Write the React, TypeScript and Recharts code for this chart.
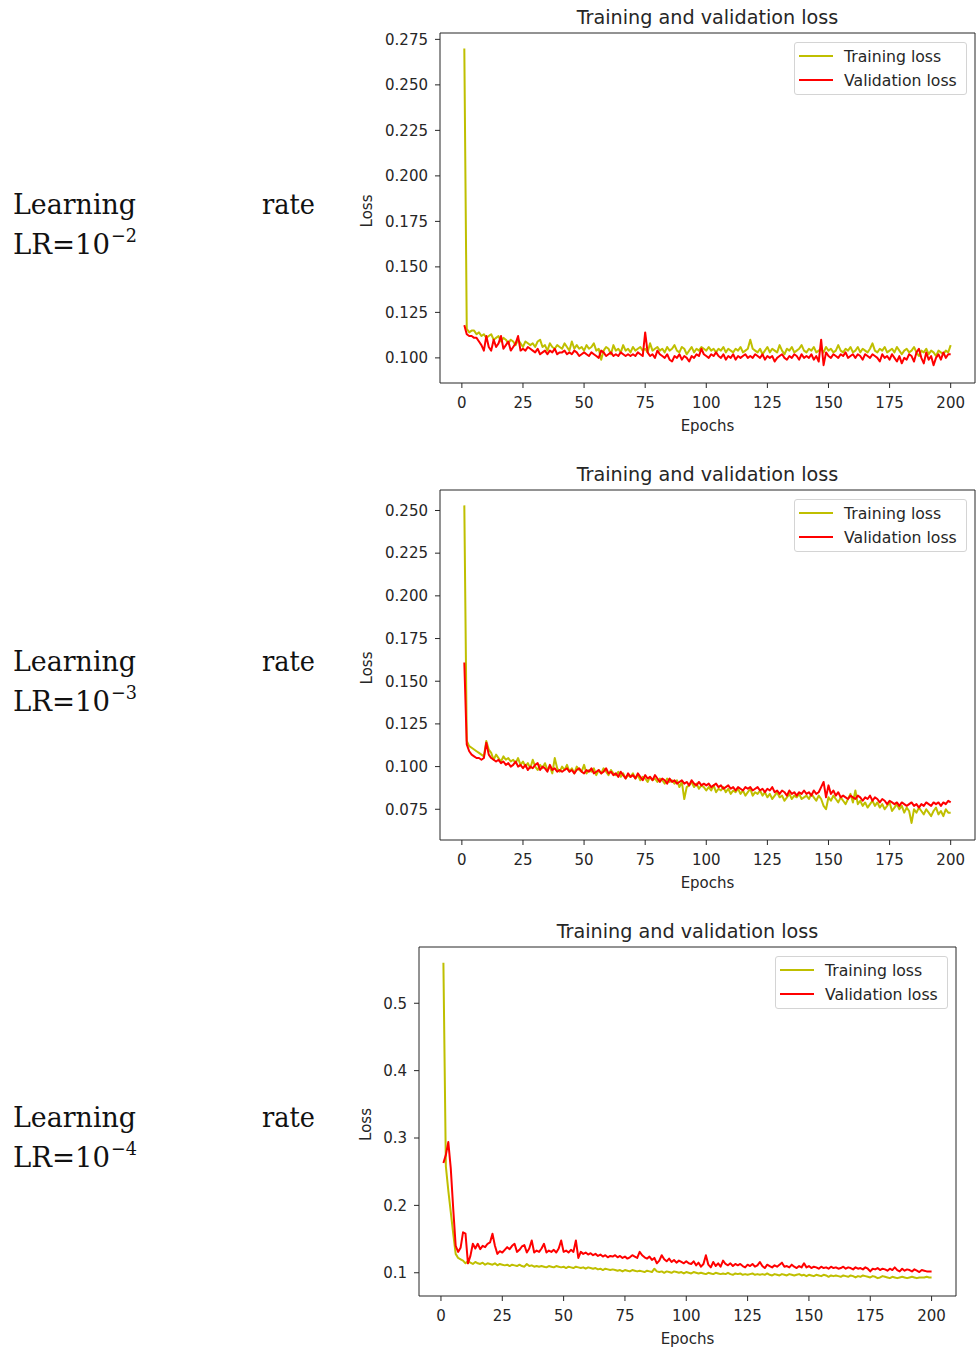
import React from 'react';
import { LineChart, Line, XAxis, YAxis, Legend, ReferenceArea, Label } from 'recharts';

const SANS = '"DejaVu Sans", sans-serif';
const SERIF = '"DejaVu Serif", serif';
const INK = '#262626';
const TRAIN_COLOR = '#bfbf00';
const VAL_COLOR = '#ff0000';

const epochs = Array.from({ length: 200 }, (_, i) => i + 1);
const epochTicks = [0, 25, 50, 75, 100, 125, 150, 175, 200];
const epochDomain = [-8.95, 209.95];

// LR = 1e-2
const train1 = [
  0.270, 0.116, 0.114, 0.115, 0.115, 0.113, 0.114, 0.112, 0.113, 0.111, 0.112, 0.113, 0.110, 0.111, 0.112, 0.109, 0.111, 0.110, 0.108, 0.110,
  0.109, 0.107, 0.110, 0.108, 0.106, 0.109, 0.108, 0.107, 0.108, 0.106, 0.109, 0.110, 0.106, 0.107, 0.104, 0.108, 0.106, 0.105, 0.107, 0.106,
  0.105, 0.108, 0.106, 0.104, 0.109, 0.105, 0.107, 0.105, 0.106, 0.104, 0.107, 0.105, 0.106, 0.108, 0.104, 0.105, 0.099, 0.104, 0.106, 0.105,
  0.102, 0.107, 0.104, 0.105, 0.103, 0.107, 0.104, 0.105, 0.103, 0.106, 0.104, 0.105, 0.106, 0.104, 0.105, 0.103, 0.108, 0.104, 0.105, 0.106,
  0.104, 0.105, 0.103, 0.106, 0.104, 0.105, 0.107, 0.104, 0.103, 0.106, 0.105, 0.102, 0.104, 0.106, 0.103, 0.105, 0.104, 0.106, 0.105, 0.104,
  0.106, 0.104, 0.105, 0.103, 0.105, 0.104, 0.106, 0.103, 0.105, 0.104, 0.103, 0.105, 0.104, 0.106, 0.103, 0.104, 0.105, 0.110, 0.105, 0.104,
  0.103, 0.105, 0.102, 0.104, 0.106, 0.103, 0.105, 0.104, 0.103, 0.107, 0.104, 0.102, 0.105, 0.104, 0.106, 0.103, 0.104, 0.105, 0.107, 0.104,
  0.103, 0.105, 0.104, 0.106, 0.103, 0.104, 0.105, 0.103, 0.106, 0.104, 0.105, 0.103, 0.104, 0.107, 0.104, 0.103, 0.105, 0.104, 0.106, 0.103,
  0.104, 0.106, 0.103, 0.105, 0.104, 0.103, 0.105, 0.108, 0.104, 0.103, 0.105, 0.104, 0.106, 0.103, 0.104, 0.105, 0.103, 0.106, 0.104, 0.102,
  0.104, 0.105, 0.103, 0.104, 0.106, 0.103, 0.101, 0.104, 0.103, 0.105, 0.102, 0.104, 0.103, 0.101, 0.104, 0.103, 0.102, 0.104, 0.103, 0.107,
];
const val1 = [
  0.118, 0.113, 0.112, 0.112, 0.111, 0.111, 0.109, 0.107, 0.104, 0.112, 0.106, 0.104, 0.110, 0.106, 0.108, 0.112, 0.105, 0.107, 0.109, 0.104,
  0.106, 0.108, 0.112, 0.104, 0.105, 0.104, 0.106, 0.105, 0.104, 0.103, 0.105, 0.102, 0.103, 0.104, 0.102, 0.104, 0.103, 0.105, 0.102, 0.103,
  0.103, 0.104, 0.102, 0.103, 0.102, 0.104, 0.103, 0.101, 0.102, 0.103, 0.102, 0.101, 0.103, 0.102, 0.101, 0.100, 0.104, 0.103, 0.101, 0.102,
  0.103, 0.101, 0.102, 0.101, 0.103, 0.102, 0.101, 0.102, 0.101, 0.102, 0.101, 0.103, 0.102, 0.101, 0.114, 0.103, 0.101, 0.102, 0.100, 0.104,
  0.102, 0.101, 0.100, 0.102, 0.099, 0.098, 0.101, 0.100, 0.102, 0.099, 0.101, 0.100, 0.098, 0.101, 0.100, 0.102, 0.101, 0.105, 0.102, 0.101,
  0.100, 0.102, 0.101, 0.103, 0.101, 0.100, 0.102, 0.099, 0.101, 0.100, 0.102, 0.099, 0.101, 0.100, 0.101, 0.102, 0.100, 0.101, 0.100, 0.102,
  0.101, 0.100, 0.102, 0.099, 0.101, 0.100, 0.101, 0.098, 0.100, 0.101, 0.102, 0.100, 0.099, 0.101, 0.100, 0.102, 0.101, 0.099, 0.102, 0.100,
  0.101, 0.100, 0.102, 0.099, 0.101, 0.098, 0.110, 0.096, 0.103, 0.101, 0.100, 0.102, 0.101, 0.100, 0.102, 0.101, 0.103, 0.100, 0.101, 0.102,
  0.100, 0.102, 0.101, 0.099, 0.102, 0.101, 0.100, 0.102, 0.101, 0.100, 0.098, 0.102, 0.100, 0.101, 0.099, 0.102, 0.100, 0.098, 0.101, 0.097,
  0.100, 0.099, 0.102, 0.101, 0.098, 0.103, 0.105, 0.100, 0.097, 0.103, 0.099, 0.101, 0.096, 0.100, 0.102, 0.099, 0.103, 0.100, 0.102, 0.102,
];
const lossTicks1 = [0.1, 0.125, 0.15, 0.175, 0.2, 0.225, 0.25, 0.275];

// LR = 1e-3
const train2 = [
  0.253, 0.115, 0.112, 0.111, 0.110, 0.109, 0.108, 0.107, 0.106, 0.115, 0.110, 0.108, 0.104, 0.107, 0.105, 0.103, 0.106, 0.104, 0.105, 0.103,
  0.104, 0.102, 0.105, 0.101, 0.103, 0.100, 0.102, 0.099, 0.104, 0.100, 0.098, 0.101, 0.099, 0.102, 0.098, 0.100, 0.096, 0.105, 0.099, 0.097,
  0.100, 0.098, 0.101, 0.097, 0.099, 0.096, 0.100, 0.098, 0.097, 0.101, 0.096, 0.098, 0.097, 0.099, 0.095, 0.098, 0.096, 0.099, 0.097, 0.095,
  0.098, 0.096, 0.095, 0.097, 0.094, 0.096, 0.093, 0.095, 0.094, 0.096, 0.093, 0.095, 0.092, 0.094, 0.093, 0.091, 0.094, 0.092, 0.093, 0.091,
  0.093, 0.092, 0.090, 0.093, 0.091, 0.092, 0.090, 0.092, 0.088, 0.091, 0.081, 0.088, 0.089, 0.091, 0.088, 0.090, 0.087, 0.089, 0.088, 0.086,
  0.088, 0.086, 0.089, 0.085, 0.087, 0.086, 0.088, 0.085, 0.087, 0.084, 0.086, 0.085, 0.087, 0.084, 0.086, 0.083, 0.085, 0.087, 0.083, 0.085,
  0.084, 0.086, 0.083, 0.085, 0.082, 0.084, 0.081, 0.083, 0.085, 0.082, 0.083, 0.080, 0.082, 0.084, 0.081, 0.083, 0.082, 0.084, 0.081, 0.082,
  0.083, 0.081, 0.084, 0.082, 0.080, 0.083, 0.081, 0.077, 0.075, 0.082, 0.080, 0.083, 0.081, 0.079, 0.082, 0.080, 0.078, 0.081, 0.084, 0.079,
  0.086, 0.078, 0.080, 0.077, 0.079, 0.076, 0.078, 0.080, 0.077, 0.079, 0.076, 0.078, 0.075, 0.077, 0.079, 0.074, 0.076, 0.078, 0.075, 0.077,
  0.073, 0.076, 0.074, 0.067, 0.075, 0.073, 0.076, 0.074, 0.072, 0.075, 0.073, 0.071, 0.074, 0.076, 0.072, 0.074, 0.071, 0.075, 0.073, 0.073,
];
const val2 = [
  0.161, 0.113, 0.109, 0.107, 0.106, 0.105, 0.105, 0.104, 0.105, 0.114, 0.107, 0.105, 0.104, 0.103, 0.104, 0.102, 0.103, 0.101, 0.102, 0.100,
  0.101, 0.103, 0.100, 0.101, 0.099, 0.101, 0.098, 0.100, 0.099, 0.101, 0.102, 0.098, 0.100, 0.099, 0.097, 0.101, 0.098, 0.099, 0.097, 0.098,
  0.097, 0.098, 0.099, 0.097, 0.098, 0.096, 0.098, 0.099, 0.097, 0.096, 0.098, 0.097, 0.099, 0.096, 0.097, 0.098, 0.096, 0.097, 0.099, 0.096,
  0.097, 0.095, 0.096, 0.094, 0.097, 0.095, 0.093, 0.096, 0.094, 0.095, 0.093, 0.096, 0.094, 0.092, 0.095, 0.093, 0.094, 0.092, 0.095, 0.093,
  0.091, 0.093, 0.092, 0.090, 0.093, 0.091, 0.092, 0.090, 0.091, 0.092, 0.090, 0.091, 0.089, 0.092, 0.090, 0.089, 0.091, 0.089, 0.090, 0.089,
  0.090, 0.088, 0.089, 0.090, 0.088, 0.089, 0.087, 0.088, 0.089, 0.087, 0.088, 0.086, 0.088, 0.087, 0.086, 0.088, 0.087, 0.088, 0.086, 0.087,
  0.088, 0.086, 0.087, 0.085, 0.087, 0.086, 0.088, 0.085, 0.086, 0.084, 0.086, 0.085, 0.083, 0.086, 0.084, 0.085, 0.083, 0.085, 0.084, 0.086,
  0.084, 0.085, 0.083, 0.086, 0.084, 0.085, 0.088, 0.091, 0.082, 0.089, 0.084, 0.086, 0.083, 0.085, 0.082, 0.083, 0.082, 0.081, 0.083, 0.082,
  0.081, 0.083, 0.082, 0.080, 0.082, 0.081, 0.083, 0.080, 0.082, 0.081, 0.079, 0.081, 0.080, 0.078, 0.080, 0.079, 0.078, 0.079, 0.077, 0.079,
  0.078, 0.077, 0.078, 0.079, 0.077, 0.078, 0.076, 0.078, 0.077, 0.079, 0.078, 0.077, 0.079, 0.078, 0.079, 0.077, 0.079, 0.078, 0.080, 0.079,
];
const lossTicks2 = [0.075, 0.1, 0.125, 0.15, 0.175, 0.2, 0.225, 0.25];

// LR = 1e-4
const train3 = [
  0.560, 0.258, 0.222, 0.190, 0.158, 0.128, 0.122, 0.120, 0.118, 0.114, 0.117, 0.115, 0.113, 0.116, 0.114, 0.113, 0.115, 0.112, 0.114, 0.113,
  0.112, 0.114, 0.111, 0.113, 0.112, 0.111, 0.112, 0.110, 0.112, 0.111, 0.110, 0.112, 0.110, 0.109, 0.113, 0.110, 0.111, 0.109, 0.110, 0.109,
  0.110, 0.109, 0.108, 0.110, 0.109, 0.108, 0.110, 0.109, 0.108, 0.109, 0.107, 0.109, 0.108, 0.107, 0.109, 0.108, 0.107, 0.108, 0.106, 0.108,
  0.107, 0.106, 0.107, 0.105, 0.106, 0.104, 0.106, 0.105, 0.104, 0.105, 0.104, 0.103, 0.104, 0.102, 0.104, 0.103, 0.102, 0.104, 0.103, 0.102,
  0.103, 0.102, 0.101, 0.103, 0.102, 0.101, 0.106, 0.102, 0.101, 0.102, 0.100, 0.102, 0.101, 0.100, 0.102, 0.101, 0.100, 0.101, 0.099, 0.101,
  0.100, 0.099, 0.101, 0.100, 0.099, 0.100, 0.099, 0.098, 0.100, 0.099, 0.098, 0.100, 0.099, 0.098, 0.099, 0.098, 0.100, 0.098, 0.097, 0.099,
  0.098, 0.099, 0.097, 0.098, 0.097, 0.098, 0.099, 0.097, 0.098, 0.097, 0.098, 0.097, 0.099, 0.097, 0.096, 0.098, 0.097, 0.096, 0.098, 0.097,
  0.096, 0.098, 0.097, 0.096, 0.097, 0.098, 0.096, 0.097, 0.095, 0.097, 0.096, 0.095, 0.097, 0.096, 0.095, 0.097, 0.096, 0.094, 0.096, 0.095,
  0.096, 0.095, 0.094, 0.096, 0.095, 0.094, 0.096, 0.095, 0.093, 0.095, 0.094, 0.096, 0.095, 0.094, 0.093, 0.095, 0.094, 0.092, 0.093, 0.095,
  0.094, 0.093, 0.092, 0.094, 0.093, 0.092, 0.093, 0.094, 0.093, 0.092, 0.093, 0.094, 0.093, 0.092, 0.093, 0.093, 0.093, 0.094, 0.093, 0.093,
];
const val3 = [
  0.263, 0.275, 0.294, 0.255, 0.195, 0.140, 0.131, 0.137, 0.160, 0.158, 0.114, 0.125, 0.143, 0.136, 0.143, 0.135, 0.140, 0.138, 0.143, 0.145,
  0.158, 0.140, 0.128, 0.132, 0.130, 0.134, 0.138, 0.135, 0.140, 0.143, 0.131, 0.134, 0.139, 0.141, 0.130, 0.136, 0.148, 0.130, 0.133, 0.131,
  0.136, 0.143, 0.130, 0.133, 0.131, 0.134, 0.130, 0.136, 0.148, 0.131, 0.133, 0.130, 0.134, 0.131, 0.148, 0.122, 0.131, 0.128, 0.130, 0.127,
  0.129, 0.126, 0.128, 0.125, 0.127, 0.124, 0.126, 0.123, 0.125, 0.124, 0.126, 0.123, 0.125, 0.122, 0.124, 0.121, 0.123, 0.126, 0.124, 0.122,
  0.131, 0.126, 0.123, 0.121, 0.124, 0.119, 0.122, 0.114, 0.118, 0.126, 0.120, 0.117, 0.121, 0.116, 0.119, 0.115, 0.118, 0.116, 0.114, 0.117,
  0.114, 0.113, 0.117, 0.111, 0.115, 0.109, 0.113, 0.126, 0.112, 0.108, 0.116, 0.110, 0.114, 0.109, 0.118, 0.113, 0.111, 0.114, 0.110, 0.113,
  0.111, 0.113, 0.110, 0.108, 0.112, 0.110, 0.113, 0.109, 0.111, 0.116, 0.110, 0.107, 0.112, 0.110, 0.108, 0.111, 0.109, 0.112, 0.115, 0.109,
  0.110, 0.108, 0.112, 0.109, 0.107, 0.110, 0.108, 0.114, 0.108, 0.110, 0.107, 0.109, 0.108, 0.106, 0.109, 0.107, 0.108, 0.106, 0.109, 0.107,
  0.108, 0.106, 0.107, 0.109, 0.106, 0.108, 0.107, 0.105, 0.108, 0.106, 0.107, 0.105, 0.108, 0.106, 0.102, 0.106, 0.105, 0.107, 0.104, 0.106,
  0.105, 0.103, 0.106, 0.104, 0.108, 0.104, 0.102, 0.106, 0.103, 0.105, 0.104, 0.102, 0.105, 0.103, 0.101, 0.104, 0.103, 0.102, 0.102, 0.102,
];
const lossTicks3 = [0.1, 0.2, 0.3, 0.4, 0.5];

const exponents = ['−2', '−3', '−4'];

const toRows = (train: number[], val: number[]) =>
  epochs.map((epoch, i) => ({ epoch, train: train[i], val: val[i] }));

const LossLegend = ({ payload }: any) => (
  <div
    style={{
      position: 'relative',
      width: 171,
      height: 51,
      border: '1px solid #d4d4d4',
      borderRadius: 3,
      background: 'rgba(255,255,255,0.8)',
      fontFamily: SANS,
      fontSize: 15.7,
      color: INK,
    }}
  >
    {(payload || []).map((item: any, i: number) => (
      <div
        key={item.value}
        style={{ position: 'absolute', left: 4, top: 2 + i * 24, height: 22, display: 'flex', alignItems: 'center', whiteSpace: 'nowrap' }}
      >
        <span style={{ display: 'inline-block', width: 34, height: 2, background: item.color, marginRight: 11 }} />
        <span>{item.value}</span>
      </div>
    ))}
  </div>
);

type PanelProps = {
  train: number[];
  val: number[];
  yDomain: number[];
  yTicks: number[];
  digits: number;
  left: number;
  top: number;
  width: number;
  plotTop: number;
  lossX: number;
};

const LossPanel = ({ train, val, yDomain, yTicks, digits, left, top, width, plotTop, lossX }: PanelProps) => {
  const height = 440;
  const plotWidth = width - 101;
  const tickStyle = { fill: INK, fontSize: 15, fontFamily: SANS };

  return (
    <div style={{ position: 'absolute', left, top, width, height }}>
      <div
        style={{
          position: 'absolute', left: 100, top: plotTop - 26, width: plotWidth, textAlign: 'center',
          fontFamily: SANS, fontSize: 19.2, lineHeight: '22px', color: INK, whiteSpace: 'nowrap',
        }}
      >
        Training and validation loss
      </div>
      <LineChart width={width} height={height} data={toRows(train, val)} margin={{ top: plotTop, right: 1, bottom: 0, left: 0 }}>
        <XAxis
          type="number"
          dataKey="epoch"
          domain={epochDomain}
          ticks={epochTicks}
          allowDataOverflow
          height={57}
          axisLine={false}
          tickSize={5}
          tickMargin={9}
          tickLine={{ stroke: INK }}
          tick={tickStyle}
        >
          <Label value="Epochs" position="insideBottom" offset={9} fill={INK} fontSize={15} fontFamily={SANS} />
        </XAxis>
        <YAxis
          type="number"
          domain={yDomain}
          ticks={yTicks}
          allowDataOverflow
          width={100}
          axisLine={false}
          tickSize={5}
          tickMargin={7}
          tickLine={{ stroke: INK }}
          tick={tickStyle}
          tickFormatter={(v: number) => v.toFixed(digits)}
        >
          <Label
            content={({ viewBox }: any) => {
              const x = lossX;
              const y = viewBox.y + viewBox.height / 2 + 3;
              return (
                <text x={x} y={y} transform={`rotate(-90 ${x} ${y})`} textAnchor="middle" dominantBaseline="central" fill={INK} fontSize={15} fontFamily={SANS}>
                  Loss
                </text>
              );
            }}
          />
        </YAxis>
        <ReferenceArea x1={epochDomain[0]} x2={epochDomain[1]} y1={yDomain[0]} y2={yDomain[1]} fill="none" stroke={INK} strokeWidth={1} ifOverflow="visible" />
        <Line type="linear" dataKey="train" name="Training loss" stroke={TRAIN_COLOR} strokeWidth={2} strokeLinejoin="round" dot={false} activeDot={false} isAnimationActive={false} />
        <Line type="linear" dataKey="val" name="Validation loss" stroke={VAL_COLOR} strokeWidth={2} strokeLinejoin="round" dot={false} activeDot={false} isAnimationActive={false} />
        <Legend
          layout="vertical"
          align="center"
          verticalAlign="middle"
          content={<LossLegend />}
          wrapperStyle={{ left: width - 182, top: plotTop + 9 }}
        />
      </LineChart>
    </div>
  );
};

const SideLabel = ({ top, exponent }: { top: number; exponent: string }) => (
  <g fontFamily={SERIF} fill="#111">
    <text x={13} y={top + 214} fontSize={28} textLength={123} lengthAdjust="spacingAndGlyphs">Learning</text>
    <text x={262} y={top + 214} fontSize={28} textLength={53} lengthAdjust="spacingAndGlyphs">rate</text>
    <text x={13} y={top + 254} fontSize={28} textLength={97} lengthAdjust="spacingAndGlyphs">LR=10</text>
    <text x={111} y={top + 242} fontSize={19} textLength={26} lengthAdjust="spacingAndGlyphs">{exponent}</text>
  </g>
);

const App = () => (
  <div style={{ position: 'absolute', left: 0, top: 0, width: 976, height: 1351, overflow: 'hidden', background: '#fff' }}>
    <svg width={976} height={1351} style={{ position: 'absolute', left: 0, top: 0 }}>
      <SideLabel top={0} exponent={exponents[0]} />
      <SideLabel top={457} exponent={exponents[1]} />
      <SideLabel top={913} exponent={exponents[2]} />
    </svg>
    <LossPanel train={train1} val={val1} yDomain={[0.0862, 0.2785]} yTicks={lossTicks1} digits={3} left={340} top={0} width={636} plotTop={33} lossX={27} />
    <LossPanel train={train2} val={val2} yDomain={[0.057, 0.262]} yTicks={lossTicks2} digits={3} left={340} top={457} width={636} plotTop={33} lossX={27} />
    <LossPanel train={train3} val={val3} yDomain={[0.0655, 0.5835]} yTicks={lossTicks3} digits={1} left={319} top={913} width={638} plotTop={34} lossX={47} />
  </div>
);

export default App;
